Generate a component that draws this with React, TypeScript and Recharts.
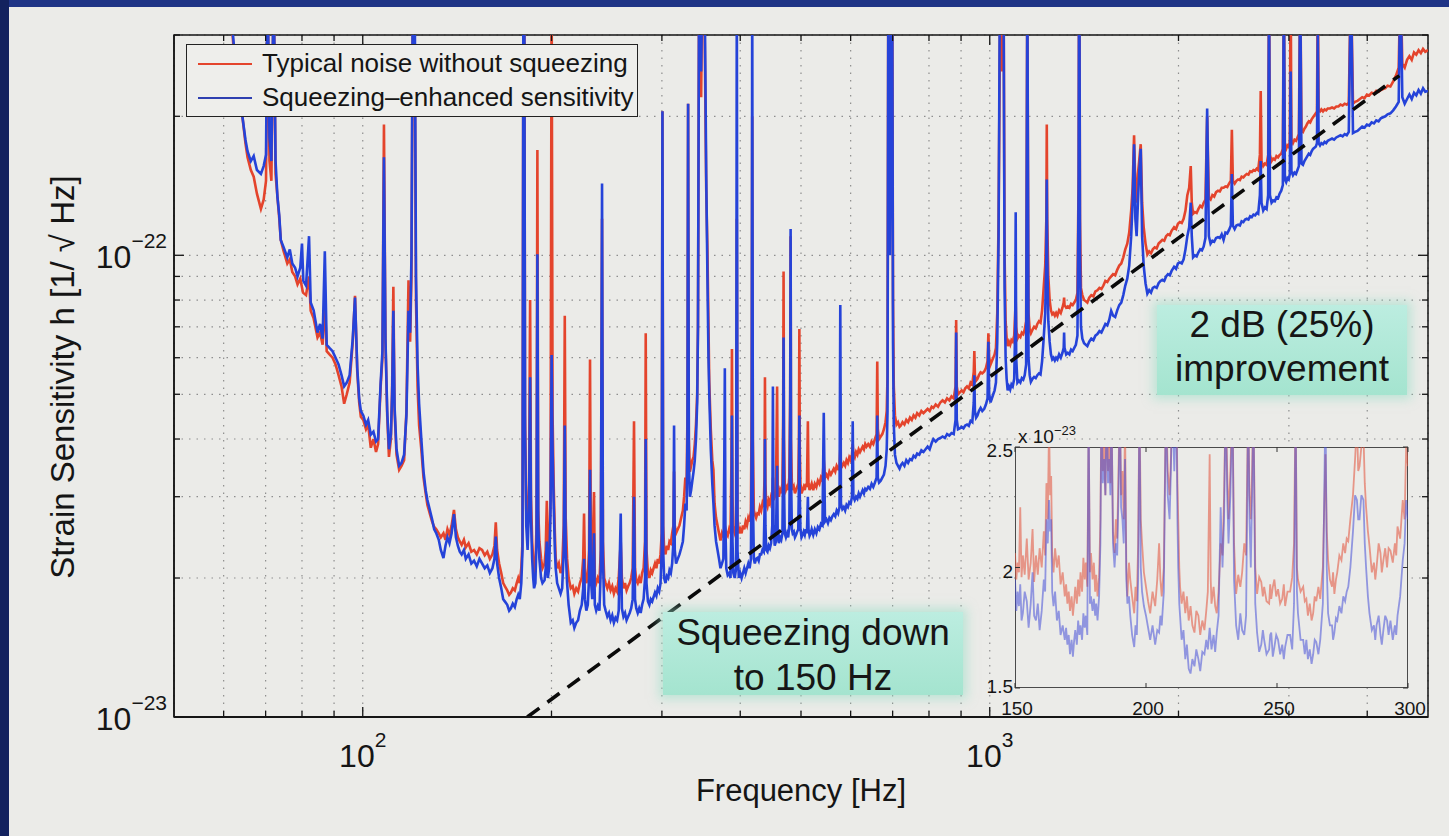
import React from 'react';
import { LineChart, Line, XAxis, YAxis, CartesianGrid, ReferenceArea } from 'recharts';

const BG = '#ebebe8';
const INK = '#151515';
const FONT = '"Liberation Sans", Arial, Helvetica, sans-serif';
const RED = '#e4442c';
const BLUE = '#2543d9';

// main plot box, page pixels
const PLOT = { left: 174, top: 35, right: 1428, bottom: 717 };
// inset plot box, chart-local pixels
const INSET = { left: 55, top: 27, right: 448, bottom: 268 };

// axes
const freqTicks = [60, 70, 80, 90, 100, 200, 300, 400, 500, 600, 700, 800, 900, 1000, 2000, 3000, 4000];
const freqLabels: Record<number, string> = { 100: '2', 1000: '3' };
const strainTicks = [1, 2, 3, 4, 5, 6, 7, 8, 9, 10, 20, 30];
const strainLabels: Record<number, string> = { 1: '\u221223', 10: '\u221222' };
const insetFreqTicks = [150, 200, 250, 300];
const insetStrainTicks = [1.5, 2, 2.5];

// strain in units of 1e-23 / sqrt(Hz), [frequency Hz, strain]
const typicalNoise = [
  [61, 40], [62.5, 26], [63.5, 21], [64.3, 19.9], [65, 17.5], [65.5, 16.3], [66.3, 15.3], [67, 14.8], [67.8, 13.6], [68.8, 12.6], [69.5, 13.2], [70.1, 14.5], [70.5, 40], [71, 16], [71.5, 14.5], [72.1, 40], [72.6, 15], [73.1, 13.4], [73.6, 12], [74, 10.8], [74.8, 10.2], [75.8, 9.6], [76.5, 9.8], [77.2, 9.2], [78, 9.0], [78.7, 8.65], [79.5, 8.9], [80.3, 8.3], [81.2, 8.2], [82.1, 9.0], [82.6, 7.58], [83.5, 7.3], [84.7, 6.64], [85.5, 6.8], [86.3, 6.4], [87, 8.0], [87.6, 6.2], [88.5, 6.1], [89.5, 6.0], [90.5, 5.8], [91.5, 5.5], [92.5, 5.2], [93.4, 4.77], [94.3, 5.0], [95.3, 5.3], [96.4, 6.5], [97.2, 8.17], [98, 5.6], [98.7, 4.8], [99.3, 4.47], [100.2, 4.4], [101.2, 4.2], [102, 4.3], [103, 3.83], [104, 4.0], [105, 3.75], [105.8, 3.9], [106.8, 5.2], [107.5, 6], [108.1, 19.2], [108.7, 6.5], [109.4, 4.5], [110.1, 3.66], [110.9, 4.0], [111.4, 5.2], [111.9, 8.55], [112.4, 4.6], [113.2, 3.7], [114.3, 3.43], [115.3, 3.5], [116.4, 3.6], [117.4, 4.6], [118.3, 8.83], [119, 6.5], [119.6, 9], [120.2, 40], [121, 30], [121.6, 8], [122.3, 5.2], [123, 4.28], [124, 3.8], [125, 3.3], [126, 3.05], [126.8, 2.88], [128, 2.75], [129, 2.65], [130, 2.58], [131, 2.55], [132.2, 2.5], [133.2, 2.45], [134.5, 2.5], [135.5, 2.42], [136.5, 2.55], [137.5, 2.48], [138.6, 2.6], [139.8, 2.81], [140.8, 2.55], [141.8, 2.45], [142.8, 2.4], [143.8, 2.36], [145, 2.42], [146, 2.33], [147.5, 2.38], [149, 2.28], [150.5, 2.3], [152, 2.25], [153.5, 2.32], [155, 2.3], [156.5, 2.24], [158, 2.28], [159.5, 2.2], [161, 2.25], [162.2, 2.35], [163, 2.64], [163.8, 2.3], [165, 2.15], [166.3, 2.05], [167.5, 1.95], [168.5, 1.92], [170, 1.88], [171.2, 1.84], [172.3, 1.86], [173.5, 1.9], [174.8, 1.88], [176, 1.95], [177, 2.0], [178, 1.95], [179, 2.1], [179.8, 2.4], [180.4, 40], [181, 40], [181.5, 4.5], [182.3, 2.8], [183.2, 2.5], [184.2, 3.2], [184.9, 8.0], [185.5, 3.0], [186.3, 2.4], [187, 2.2], [187.6, 2.0], [188.5, 2.1], [189.3, 2.6], [189.9, 16.9], [190.5, 2.8], [191.3, 2.4], [192.5, 2.2], [193.5, 2.1], [195, 2.15], [195.8, 2.3], [196.6, 2.94], [197.3, 2.2], [198.3, 2.3], [199.3, 3.0], [200.1, 40], [200.8, 4.5], [201.6, 3.2], [202.5, 2.5], [203.1, 2.21], [204.2, 2.1], [205.5, 2.15], [206.8, 2.05], [208, 2.1], [209.2, 2.6], [210, 7.4], [210.7, 2.7], [211.8, 2.2], [213, 2.0], [214.7, 1.9], [216.2, 1.92], [217.5, 1.85], [219, 1.9], [220.5, 1.87], [222, 1.95], [223.5, 2.0], [224.7, 2.2], [225.4, 2.76], [226.1, 2.1], [227.3, 1.95], [228.5, 2.0], [229.6, 2.3], [230.4, 5.95], [231.1, 2.4], [232.3, 2.1], [233.8, 3.07], [234.5, 2.0], [235.7, 1.95], [237, 2.0], [238.5, 1.95], [239.7, 2.3], [240.8, 12.0], [241.6, 2.4], [242.7, 2.0], [244, 1.95], [245.5, 1.9], [247, 1.95], [248.5, 1.88], [250, 1.92], [251.5, 1.85], [253, 1.9], [254.5, 1.87], [256, 2.0], [257.9, 2.4], [259, 2.0], [260.5, 1.9], [262, 1.95], [263.5, 1.88], [265, 1.92], [266.5, 1.95], [268, 2.0], [269.5, 2.1], [270.8, 4.37], [271.8, 2.1], [273, 1.98], [274.5, 1.95], [276, 2.0], [277.5, 1.95], [279, 2.05], [280.5, 2.1], [282, 2.4], [282.7, 6.78], [283.5, 2.3], [285, 2.05], [286.5, 2.0], [288, 2.08], [289.5, 2.05], [291, 2.1], [292.5, 2.15], [294, 2.1], [295.5, 2.2], [297, 2.15], [298.5, 2.25], [299.8, 2.5], [300.6, 20.5], [301.4, 2.6], [302.5, 2.3], [304, 2.25], [305.5, 2.35], [307, 2.3], [308.5, 2.4], [310, 2.38], [311.5, 2.5], [313, 2.6], [313.7, 3.4], [314.5, 2.6], [316, 2.5], [318, 2.55], [320, 2.6], [322, 2.7], [324, 2.8], [325.5, 3.0], [327, 3.3], [328.5, 3.2], [329.5, 4.5], [330.3, 21.3], [331.2, 4.0], [332.5, 3.4], [334, 3.5], [335.5, 3.6], [337, 3.66], [338.5, 3.9], [340, 4.3], [341.5, 5.0], [342.5, 7], [343.9, 40], [345, 25], [346.5, 22], [348, 40], [349.5, 40], [350.2, 40], [351.5, 25], [353, 14], [354.6, 10.3], [356, 7.0], [357, 5.3], [359, 4.2], [361, 3.6], [362.5, 3.43], [364, 2.9], [366, 2.7], [368, 2.6], [370, 2.5], [372, 2.41], [374, 2.5], [376, 2.45], [378, 2.6], [380, 2.5], [382, 2.47], [384, 2.55], [386, 2.5], [387.2, 3.5], [388, 6.27], [388.8, 3.0], [390, 2.55], [392, 2.5], [394, 2.6], [395, 12], [396, 2.7], [398, 2.5], [400, 2.55], [402, 2.5], [404, 2.6], [406, 2.55], [408, 2.65], [410, 2.6], [412, 2.7], [414, 2.65], [416, 2.8], [417.2, 5], [418, 20], [419, 4], [420.5, 2.8], [422, 2.75], [424, 2.7], [426, 2.76], [428, 2.75], [430, 2.85], [432, 2.8], [434, 2.9], [436, 2.85], [437.3, 3.3], [438, 5.44], [438.8, 3.2], [440, 2.9], [442, 2.85], [444, 2.95], [446, 2.9], [448, 3.0], [450, 2.95], [451, 3.3], [452, 2.95], [454, 3.0], [456, 3.05], [458, 5.2], [459, 3.1], [461, 3.0], [463, 3.1], [465, 3.05], [467, 3.2], [468.3, 4.5], [469, 9.22], [469.8, 4.0], [471, 3.2], [473, 3.1], [475, 3.15], [477, 3.1], [479, 3.3], [480.5, 5.0], [481.3, 11.0], [482, 4.0], [483.5, 3.2], [485, 3.1], [487, 3.15], [489, 3.05], [491, 3.1], [493, 3.15], [495, 3.2], [496.2, 4.0], [497, 6.92], [497.8, 3.8], [499, 3.2], [501, 3.05], [503, 3.1], [505, 3.15], [507, 3.1], [509, 3.2], [511, 3.15], [512.8, 4.37], [514, 3.2], [516, 3.1], [518, 3.15], [520, 3.2], [523, 3.1], [526, 3.2], [529, 3.15], [532, 3.25], [535, 3.2], [538, 3.3], [541, 3.25], [543.6, 3.6], [546, 3.3], [549, 3.35], [552, 3.3], [555, 3.4], [558, 3.35], [561, 3.4], [564, 3.45], [567, 3.4], [570, 3.5], [573, 3.45], [576, 3.5], [577.6, 3.8], [579, 3.55], [582, 3.5], [585, 3.55], [588, 3.5], [591, 3.6], [594, 3.55], [597, 3.65], [600, 3.6], [603, 3.7], [604.6, 3.9], [606, 3.7], [609, 3.65], [612, 3.75], [615, 3.7], [618, 3.8], [621, 3.75], [624, 3.8], [627, 3.85], [630, 3.8], [633, 3.9], [636, 3.85], [640, 3.9], [644, 3.85], [648, 3.95], [652, 3.9], [656, 4.0], [660, 4.1], [661.6, 5.89], [663, 4.2], [666, 4.0], [670, 4.05], [674, 4.1], [678, 4.2], [682, 4.35], [685, 4.6], [687, 5.5], [689, 40], [691, 15], [693, 12], [695, 20], [697, 40], [699, 40], [701, 8], [703, 5.2], [706, 4.5], [710, 4.3], [714, 4.35], [718, 4.25], [721.5, 4.28], [726, 4.35], [731, 4.3], [736, 4.4], [741, 4.35], [746, 4.45], [751, 4.4], [756, 4.5], [761, 4.45], [766, 4.55], [772, 4.5], [778, 4.6], [784, 4.55], [790, 4.6], [796, 4.65], [802, 4.6], [808, 4.7], [813, 4.67], [820, 4.75], [827, 4.7], [834, 4.8], [841, 4.85], [848, 4.8], [855, 4.9], [862, 4.85], [869, 4.95], [876, 4.9], [882, 5.2], [884, 7.24], [886, 5.2], [890, 5.0], [896, 5.05], [902, 5.1], [908, 5.05], [914, 5.15], [920, 5.2], [926, 5.15], [932, 5.3], [938, 5.25], [943, 5.6], [945, 6.2], [947, 5.5], [951, 5.35], [956, 5.4], [961, 5.5], [967, 5.58], [973, 5.55], [980, 5.6], [986, 5.7], [992, 5.9], [995, 6.78], [998, 6.0], [1003, 5.8], [1008, 5.9], [1013, 6.0], [1018, 6.1], [1023, 6.3], [1028, 7.5], [1033, 12], [1038, 30], [1041, 40], [1044, 25], [1048, 40], [1052, 40], [1056, 10], [1060, 7.2], [1064, 6.6], [1068, 6.36], [1073, 6.5], [1078, 6.4], [1083, 6.55], [1088, 6.5], [1094, 6.7], [1098, 7.5], [1100, 8.0], [1102, 7.0], [1107, 6.6], [1113, 6.7], [1119, 6.65], [1125, 6.8], [1131, 6.75], [1137, 6.9], [1143, 7.2], [1148, 40], [1153, 7.5], [1158, 6.9], [1163, 6.78], [1170, 6.9], [1177, 7.0], [1184, 6.95], [1191, 7.1], [1198, 7.2], [1205, 7.15], [1212, 7.6], [1219, 8.5], [1226, 9.5], [1231, 12], [1233, 19.2], [1235, 12], [1240, 9.0], [1246, 8.0], [1252, 7.6], [1258, 7.45], [1264, 7.5], [1270, 7.4], [1276, 7.5], [1282, 7.4], [1290, 7.6], [1298, 7.5], [1306, 7.7], [1312, 7.9], [1314, 8.1], [1316, 7.8], [1324, 7.7], [1332, 7.75], [1340, 7.7], [1348, 7.85], [1356, 7.8], [1364, 7.9], [1372, 8.0], [1380, 8.3], [1386, 15], [1388, 40], [1390, 40], [1393, 12], [1398, 8.5], [1405, 8.2], [1414, 8.0], [1423, 7.95], [1431, 7.9], [1441, 8.1], [1452, 8.2], [1463, 8.15], [1474, 8.35], [1485, 8.4], [1496, 8.5], [1507, 8.45], [1518, 8.6], [1529, 8.8], [1540, 8.75], [1551, 8.9], [1562, 9.0], [1573, 9.1], [1585, 9.05], [1597, 9.3], [1609, 9.5], [1621, 9.6], [1633, 9.9], [1645, 10.3], [1657, 10.6], [1669, 11.2], [1681, 12.5], [1690, 14], [1699, 18.2], [1707, 14], [1715, 13], [1723, 15], [1731, 16], [1741, 17.4], [1750, 13], [1760, 11.5], [1772, 10.6], [1784, 10.05], [1796, 10.2], [1808, 10.1], [1820, 10.3], [1833, 10.4], [1846, 10.35], [1859, 10.6], [1872, 10.7], [1885, 10.8], [1898, 10.75], [1911, 11.0], [1924, 11.1], [1937, 11.05], [1950, 11.3], [1968, 11.5], [1982, 11.4], [1996, 11.7], [2010, 11.8], [2024, 11.75], [2038, 12.0], [2052, 12.5], [2066, 13.5], [2080, 14], [2092, 15.6], [2100, 13], [2110, 12.3], [2124, 12.4], [2138, 12.35], [2152, 12.6], [2166, 12.8], [2180, 12.7], [2194, 13.0], [2208, 13.2], [2222, 20.0], [2236, 13.3], [2250, 13.2], [2265, 13.5], [2280, 13.4], [2296, 13.7], [2312, 13.8], [2328, 13.75], [2344, 14.0], [2360, 14.0], [2376, 14.1], [2392, 14.05], [2408, 14.3], [2424, 14.5], [2433, 18.7], [2442, 14.5], [2458, 14.3], [2474, 14.5], [2490, 14.6], [2506, 14.55], [2522, 14.8], [2538, 14.75], [2554, 14.9], [2570, 15.0], [2586, 14.95], [2602, 15.2], [2618, 15.15], [2634, 15.3], [2650, 15.25], [2666, 15.4], [2680, 15.3], [2697, 16.5], [2705, 22.7], [2713, 16], [2730, 15.6], [2747, 15.8], [2764, 15.7], [2780, 16.5], [2789, 40], [2798, 16.5], [2815, 16.0], [2832, 16.2], [2849, 16.1], [2866, 16.4], [2883, 16.3], [2900, 16.5], [2917, 16.6], [2934, 17.0], [2945, 40], [2956, 17.2], [2970, 17.0], [2984, 17.3], [2998, 17.2], [3010, 17.6], [3019, 40], [3028, 17.8], [3045, 17.5], [3062, 17.8], [3079, 17.7], [3096, 18.0], [3112, 18.3], [3127, 40], [3142, 18.6], [3159, 18.5], [3176, 18.8], [3193, 19.0], [3210, 19.3], [3227, 19.5], [3244, 19.4], [3261, 19.7], [3278, 19.9], [3295, 20.1], [3312, 20.3], [3326, 20.5], [3336, 40], [3346, 20.6], [3363, 20.5], [3380, 20.7], [3400, 20.5], [3420, 20.7], [3440, 20.6], [3460, 20.8], [3488, 20.8], [3515, 20.9], [3542, 20.8], [3570, 21.0], [3598, 21.0], [3626, 21.2], [3654, 21.1], [3682, 21.3], [3710, 21.2], [3738, 21.4], [3767, 40], [3796, 21.3], [3825, 21.5], [3859, 21.6], [3893, 21.8], [3927, 22.0], [3961, 21.9], [3995, 22.3], [4030, 22.2], [4065, 22.5], [4100, 22.4], [4135, 22.7], [4170, 22.6], [4205, 22.8], [4240, 22.9], [4275, 23.0], [4310, 23.3], [4355, 23.2], [4400, 23.8], [4445, 24.5], [4490, 25.5], [4519, 40], [4550, 26], [4590, 25.5], [4630, 26.5], [4670, 27], [4710, 26.5], [4750, 27.5], [4790, 27.2], [4830, 27.8], [4870, 27.4], [4910, 28], [4950, 27.6], [5000, 27.8],
];

const squeezedNoise = [
  [61, 40], [62.5, 27], [63.5, 22], [64.3, 19.9], [65, 17.8], [65.5, 16.8], [66.3, 16.0], [67, 16.4], [67.8, 15.3], [68.8, 15.0], [69.5, 15.6], [70.1, 16.5], [70.5, 40], [71, 18], [71.5, 16], [72.1, 40], [72.6, 16], [73.1, 13.4], [73.6, 12.2], [74, 10.8], [74.8, 10.4], [75.8, 9.9], [76.5, 10.3], [77.2, 9.6], [78, 9.4], [78.7, 9.0], [79.5, 9.4], [80, 10.6], [80.4, 8.8], [81.2, 8.6], [82.1, 11.0], [82.6, 7.9], [83.5, 7.6], [84.7, 6.8], [85.5, 7.1], [86.3, 6.6], [87, 10.2], [87.6, 6.4], [88.5, 6.3], [89.5, 6.2], [90.5, 6.0], [91.5, 5.8], [92.5, 5.5], [93.4, 5.2], [94.3, 5.3], [95.3, 5.5], [96.4, 6.6], [97.2, 8.1], [98, 5.7], [98.7, 4.9], [99.3, 4.6], [100.2, 4.5], [101.2, 4.3], [102, 4.4], [103, 4.09], [104, 4.15], [105, 3.95], [105.8, 4.0], [106.8, 5.3], [107.5, 6.2], [108.1, 16.3], [108.7, 6.6], [109.4, 4.6], [110.1, 3.8], [110.9, 4.1], [111.4, 5.0], [111.9, 7.58], [112.4, 4.7], [113.2, 3.8], [114.3, 3.5], [115.3, 3.55], [116.4, 3.7], [117.4, 4.5], [118.3, 7.58], [119, 6.8], [119.6, 10], [120.2, 40], [121, 40], [121.6, 9], [122.3, 5.8], [123, 4.77], [124, 4.0], [125, 3.4], [126, 3.1], [126.8, 2.95], [128, 2.8], [129, 2.68], [130, 2.55], [131, 2.5], [132.2, 2.42], [133.2, 2.3], [134.5, 2.21], [135.5, 2.35], [136.5, 2.45], [137.5, 2.38], [138.6, 2.5], [139.8, 2.75], [140.8, 2.45], [141.8, 2.35], [142.8, 2.28], [143.8, 2.25], [145, 2.3], [146, 2.2], [147.5, 2.25], [149, 2.15], [150.5, 2.18], [152, 2.12], [153.5, 2.2], [155, 2.15], [156.5, 2.1], [158, 2.13], [159.5, 2.05], [161, 2.1], [162.2, 2.2], [163, 2.46], [163.8, 2.15], [165, 2.0], [166.3, 1.9], [167.5, 1.8], [168.5, 1.78], [170, 1.75], [171.2, 1.7], [172.3, 1.72], [173.5, 1.76], [174.8, 1.73], [176, 1.8], [177, 1.84], [178, 1.8], [179, 1.95], [179.8, 2.3], [180.4, 40], [181, 40], [181.5, 4.2], [182.3, 2.6], [183.2, 2.3], [184.2, 2.9], [184.9, 5.44], [185.5, 2.7], [186.3, 2.2], [187, 2.0], [187.6, 1.9], [188.5, 1.95], [189.3, 2.4], [189.9, 10.05], [190.5, 2.6], [191.3, 2.2], [192.5, 2.0], [193.5, 1.95], [195, 1.98], [195.8, 2.1], [196.6, 2.4], [197.3, 2.0], [198.3, 2.1], [199.3, 2.8], [200.1, 6.08], [200.8, 3.8], [201.6, 2.9], [202.5, 2.3], [203.1, 2.1], [204.2, 1.95], [205.5, 1.9], [206.8, 1.85], [208, 1.9], [209.2, 2.3], [210, 4.28], [210.7, 2.3], [211.8, 1.95], [213, 1.75], [214.7, 1.6], [216.2, 1.62], [217.5, 1.56], [219, 1.6], [220.5, 1.62], [222, 1.7], [223.5, 1.75], [224.7, 1.9], [225.4, 2.2], [226.1, 1.8], [227.3, 1.7], [228.5, 1.75], [229.6, 2.0], [230.4, 3.43], [231.1, 2.0], [232.3, 1.8], [233.8, 2.5], [234.5, 1.75], [235.7, 1.7], [237, 1.74], [238.5, 1.7], [239.7, 2.1], [240.8, 14.3], [241.6, 2.2], [242.7, 1.75], [244, 1.7], [245.5, 1.65], [247, 1.68], [248.5, 1.62], [250, 1.66], [251.5, 1.6], [253, 1.64], [254.5, 1.62], [256, 1.7], [257.9, 2.76], [259, 1.72], [260.5, 1.65], [262, 1.68], [263.5, 1.62], [265, 1.65], [266.5, 1.68], [268, 1.72], [269.5, 1.8], [270.8, 3.0], [271.8, 1.8], [273, 1.72], [274.5, 1.68], [276, 1.72], [277.5, 1.68], [279, 1.75], [280.5, 1.8], [282, 2.0], [282.7, 4.0], [283.5, 1.95], [285, 1.78], [286.5, 1.75], [288, 1.8], [289.5, 1.78], [291, 1.82], [292.5, 1.86], [294, 1.83], [295.5, 1.9], [297, 1.87], [298.5, 1.95], [299.8, 2.3], [300.6, 20.5], [301.4, 2.3], [302.5, 2.0], [304, 1.95], [305.5, 2.02], [307, 2.0], [308.5, 2.08], [310, 2.05], [311.5, 2.15], [313, 2.4], [313.7, 4.28], [314.5, 2.3], [316, 2.15], [318, 2.2], [320, 2.25], [322, 2.32], [324, 2.4], [325.5, 2.6], [327, 2.9], [328.5, 2.8], [329.5, 4.0], [330.3, 21.3], [331.2, 3.6], [332.5, 3.0], [334, 3.1], [335.5, 3.25], [337, 3.4], [338.5, 3.6], [340, 4.0], [341.5, 4.8], [342.5, 7], [343.9, 40], [345, 30], [346.5, 25], [348, 40], [349.5, 40], [350.2, 40], [351.5, 30], [353, 15], [354.6, 9.0], [356, 6.0], [357, 5.0], [359, 3.8], [361, 3.2], [362.5, 2.9], [364, 2.6], [366, 2.4], [368, 2.3], [370, 2.2], [372, 2.1], [374, 2.15], [376, 2.2], [377.2, 3.5], [378, 5.69], [378.8, 2.6], [380, 2.1], [382, 2.03], [384, 2.05], [386, 2.0], [387.2, 2.6], [388, 4.5], [388.8, 2.4], [390, 2.05], [392, 2.0], [394, 2.1], [395, 40], [396, 2.3], [398, 2.0], [400, 2.05], [402, 2.0], [404, 2.05], [406, 2.1], [408, 2.05], [410, 2.1], [412, 2.15], [414, 2.1], [416, 2.2], [417.2, 4], [418, 40], [419, 3], [420.5, 2.2], [422, 2.15], [424, 2.2], [426, 2.21], [428, 2.18], [430, 2.25], [432, 2.25], [434, 2.3], [436, 2.28], [437.3, 2.8], [438, 4.0], [438.8, 2.6], [440, 2.3], [442, 2.28], [444, 2.35], [446, 2.32], [448, 2.38], [450, 2.6], [451, 5.2], [452, 2.6], [454, 2.35], [456, 2.4], [458, 3.5], [459, 2.5], [461, 2.38], [463, 2.45], [465, 2.42], [467, 2.5], [468.3, 3.6], [469, 6.64], [469.8, 3.2], [471, 2.5], [473, 2.45], [475, 2.5], [477, 2.45], [479, 2.6], [480.5, 4.5], [481.3, 11.4], [482, 3.4], [483.5, 2.55], [485, 2.5], [487, 2.52], [489, 2.45], [491, 2.48], [493, 2.52], [495, 2.55], [496.2, 3.2], [497, 4.5], [497.8, 3.0], [499, 2.55], [501, 2.45], [503, 2.48], [505, 2.52], [507, 2.48], [509, 2.55], [511, 2.5], [512.8, 3.0], [514, 2.55], [516, 2.47], [518, 2.5], [520, 2.55], [523, 2.48], [526, 2.55], [529, 2.5], [532, 2.58], [535, 2.55], [538, 2.62], [541, 2.6], [543.6, 4.56], [546, 2.65], [549, 2.68], [552, 2.63], [555, 2.7], [558, 2.67], [561, 2.72], [564, 2.75], [567, 2.72], [570, 2.8], [573, 2.76], [576, 2.85], [577.6, 7.8], [579, 2.9], [582, 2.82], [585, 2.85], [588, 2.8], [591, 2.88], [594, 2.85], [597, 2.92], [600, 2.9], [603, 3.0], [604.6, 4.37], [606, 3.0], [609, 2.95], [612, 3.0], [615, 2.97], [618, 3.05], [621, 3.0], [624, 3.05], [627, 3.1], [630, 3.05], [633, 3.12], [636, 3.1], [640, 3.15], [644, 3.12], [648, 3.2], [652, 3.15], [656, 3.22], [660, 3.3], [661.6, 4.5], [663, 3.3], [666, 3.22], [670, 3.25], [674, 3.3], [678, 3.35], [682, 3.5], [685, 3.8], [687, 4.6], [689, 40], [691, 12], [693, 10], [695, 18], [697, 40], [699, 40], [701, 6.5], [703, 4.3], [706, 3.7], [710, 3.55], [714, 3.5], [718, 3.45], [721.5, 3.51], [726, 3.55], [731, 3.5], [736, 3.6], [741, 3.55], [746, 3.62], [751, 3.6], [756, 3.68], [761, 3.65], [766, 3.72], [772, 3.7], [778, 3.78], [784, 3.75], [790, 3.8], [796, 3.85], [802, 3.8], [808, 3.92], [813, 4.0], [820, 3.95], [827, 4.0], [834, 4.02], [841, 4.05], [848, 4.02], [855, 4.1], [862, 4.07], [869, 4.12], [876, 4.1], [882, 4.4], [884, 6.8], [886, 4.4], [890, 4.2], [896, 4.22], [902, 4.25], [908, 4.22], [914, 4.28], [920, 4.3], [926, 4.27], [932, 4.38], [938, 4.35], [943, 4.8], [945, 5.5], [947, 4.6], [951, 4.45], [956, 4.5], [961, 4.6], [967, 4.67], [973, 4.6], [980, 4.65], [986, 4.75], [992, 4.9], [995, 6.5], [998, 5.0], [1003, 4.8], [1008, 4.9], [1013, 5.0], [1018, 5.1], [1023, 5.3], [1028, 6.5], [1033, 11], [1038, 40], [1041, 40], [1044, 30], [1048, 40], [1052, 40], [1056, 8.5], [1060, 6.0], [1064, 5.4], [1068, 5.1], [1073, 5.2], [1078, 5.12], [1083, 5.25], [1088, 5.2], [1094, 5.4], [1098, 7.0], [1100, 12.4], [1102, 6.0], [1107, 5.3], [1113, 5.35], [1119, 5.3], [1125, 5.42], [1131, 5.38], [1137, 5.5], [1143, 5.8], [1148, 40], [1153, 6.0], [1158, 5.5], [1163, 5.32], [1170, 5.4], [1177, 5.45], [1184, 5.42], [1191, 5.5], [1198, 5.55], [1205, 5.52], [1212, 5.9], [1219, 6.6], [1226, 7.5], [1231, 10], [1233, 14.6], [1235, 10], [1240, 7.2], [1246, 6.5], [1252, 6.1], [1258, 5.95], [1264, 6.0], [1270, 5.92], [1276, 6.0], [1282, 5.95], [1290, 6.1], [1298, 6.0], [1306, 6.15], [1312, 6.3], [1314, 6.8], [1316, 6.3], [1324, 6.1], [1332, 6.15], [1340, 6.1], [1348, 6.25], [1356, 6.2], [1364, 6.3], [1372, 6.4], [1380, 6.7], [1386, 14], [1388, 40], [1390, 40], [1393, 10], [1398, 7.0], [1405, 6.6], [1414, 6.45], [1423, 6.4], [1431, 6.36], [1441, 6.5], [1452, 6.6], [1463, 6.55], [1474, 6.7], [1485, 6.75], [1496, 6.85], [1507, 6.8], [1518, 6.95], [1529, 7.1], [1540, 7.05], [1551, 7.25], [1562, 7.58], [1573, 7.4], [1585, 7.35], [1597, 7.6], [1609, 7.8], [1621, 7.9], [1633, 8.2], [1645, 8.6], [1657, 8.9], [1669, 9.5], [1681, 11], [1690, 13], [1699, 17.4], [1707, 12], [1715, 11], [1723, 13], [1731, 15], [1741, 17.0], [1750, 11], [1760, 9.5], [1772, 8.7], [1784, 8.26], [1796, 8.4], [1808, 8.3], [1820, 8.5], [1833, 8.55], [1846, 8.5], [1859, 8.7], [1872, 8.8], [1885, 8.85], [1898, 8.8], [1911, 9.0], [1924, 9.1], [1937, 9.05], [1950, 9.25], [1968, 9.44], [1982, 9.35], [1996, 9.6], [2010, 9.65], [2024, 9.6], [2038, 9.8], [2052, 10.3], [2066, 11], [2080, 11.5], [2092, 13.0], [2100, 11], [2110, 9.9], [2124, 10.0], [2138, 9.95], [2152, 10.15], [2166, 10.3], [2180, 10.25], [2194, 10.45], [2208, 10.9], [2222, 20.8], [2236, 11.0], [2250, 10.6], [2265, 10.75], [2280, 10.7], [2296, 10.9], [2312, 10.95], [2328, 10.9], [2344, 11.1], [2360, 10.8], [2376, 11.2], [2392, 11.15], [2408, 11.35], [2424, 11.6], [2433, 15], [2442, 11.6], [2458, 11.4], [2474, 11.6], [2490, 11.65], [2506, 11.6], [2522, 11.85], [2538, 11.8], [2554, 11.95], [2570, 12.0], [2586, 11.95], [2602, 12.15], [2618, 12.1], [2634, 12.25], [2650, 12.2], [2666, 12.35], [2680, 12.3], [2697, 13.5], [2705, 16], [2713, 13], [2730, 12.5], [2747, 12.7], [2764, 12.6], [2780, 13.5], [2789, 40], [2798, 13.5], [2815, 13.0], [2832, 13.15], [2849, 13.1], [2866, 13.35], [2883, 13.3], [2900, 13.6], [2917, 13.8], [2934, 14.2], [2945, 40], [2956, 14.6], [2970, 14.4], [2984, 14.7], [2998, 14.6], [3010, 15.0], [3019, 25], [3028, 15.2], [3045, 14.9], [3062, 15.1], [3079, 15.0], [3096, 15.3], [3112, 15.6], [3127, 40], [3142, 15.8], [3159, 15.7], [3176, 16.0], [3193, 16.2], [3210, 16.4], [3227, 16.6], [3244, 16.5], [3261, 16.8], [3278, 17.0], [3295, 17.1], [3312, 17.2], [3326, 17.5], [3336, 30], [3346, 17.5], [3363, 17.3], [3380, 17.5], [3400, 17.4], [3420, 17.6], [3440, 17.5], [3460, 17.7], [3488, 17.8], [3515, 17.9], [3542, 17.8], [3570, 18.0], [3598, 18.1], [3626, 18.2], [3654, 18.1], [3682, 18.3], [3710, 18.2], [3738, 18.5], [3767, 40], [3796, 18.4], [3825, 18.5], [3859, 18.6], [3893, 18.8], [3927, 19.0], [3961, 18.9], [3995, 19.2], [4030, 19.1], [4065, 19.4], [4100, 19.3], [4135, 19.6], [4170, 19.5], [4205, 19.8], [4240, 19.9], [4275, 20.0], [4310, 20.2], [4355, 20.3], [4400, 20.6], [4445, 21.0], [4490, 21.5], [4519, 40], [4550, 22], [4590, 21.3], [4630, 21.8], [4670, 22.3], [4710, 21.8], [4750, 22.5], [4790, 22.2], [4830, 22.8], [4870, 22.4], [4910, 23.0], [4950, 22.6], [5000, 22.7],
];

// the dashed guide line
const guideLine = [[183, 1], [4500, 24.5]];

// inset, 150-300 Hz, linear axes
const insetTypical = [
  [150, 2.06], [150.5, 1.95], [151, 2.02], [151.5, 1.98], [152, 2.25], [152.5, 1.96], [153, 2.05], [153.7, 1.97], [154.5, 2.12], [155.2, 1.95], [156, 2.02], [156.7, 2.16], [157.3, 1.94], [158, 2.05], [158.7, 1.97], [159.4, 2.08], [160.2, 2.0], [161, 2.15], [161.5, 2.05], [162, 2.35], [162.5, 2.2], [163, 2.6], [163.4, 2.3], [163.8, 2.38], [164.2, 2.05], [164.7, 1.98], [165.3, 2.08], [166, 2.0], [166.7, 2.05], [167.4, 1.93], [168.2, 1.98], [169, 1.88], [169.5, 1.93], [170, 1.85], [170.5, 1.9], [171, 1.82], [171.6, 1.88], [172.1, 1.8], [172.6, 1.86], [173, 1.92], [173.6, 1.85], [174.1, 1.95], [174.6, 1.88], [175, 1.98], [175.6, 1.9], [176.1, 2.04], [176.6, 1.95], [177, 2.02], [177.6, 1.92], [178.1, 2.6], [178.6, 1.98], [179, 2.06], [179.6, 1.95], [180.1, 2.02], [180.6, 1.9], [181, 1.97], [181.5, 1.88], [182.1, 1.96], [182.6, 2.2], [183, 2.7], [183.5, 2.4], [184, 2.5], [184.5, 2.3], [185, 2.7], [185.5, 2.4], [186, 2.55], [186.4, 2.35], [186.8, 2.7], [187.4, 2.15], [188, 2.06], [188.5, 2.2], [189, 2.12], [189.5, 2.4], [190, 2.7], [190.5, 2.3], [191, 2.4], [191.5, 2.2], [192, 2.6], [192.5, 2.0], [192.9, 1.88], [193.5, 2.02], [194, 1.95], [194.7, 1.88], [195.5, 1.81], [196, 1.92], [196.5, 1.86], [197, 2.1], [197.5, 2.7], [198, 2.2], [198.5, 2.1], [199.2, 1.98], [200, 1.92], [200.8, 1.86], [201.6, 1.81], [202.5, 1.9], [203.5, 1.84], [204.3, 1.95], [205, 2.1], [205.5, 1.95], [206, 1.88], [206.8, 2.0], [207.6, 2.7], [208.3, 2.4], [209, 2.3], [209.5, 2.45], [210, 2.7], [210.8, 2.5], [211.6, 2.7], [212, 2.35], [212.3, 2.2], [212.7, 2.0], [213, 1.92], [213.6, 1.85], [214.3, 1.9], [215, 1.81], [215.6, 1.88], [216.3, 1.78], [217, 1.84], [217.7, 1.76], [218.5, 1.73], [219.2, 1.82], [220, 1.8], [220.7, 1.72], [221.5, 1.78], [222.3, 1.74], [223, 1.82], [223.6, 1.9], [224.3, 2.47], [224.7, 1.95], [225, 1.85], [225.8, 1.92], [226.4, 1.84], [227, 1.81], [227.7, 1.9], [228.5, 2.1], [229.2, 2.05], [229.8, 2.3], [230.4, 2.7], [231, 2.4], [231.5, 2.2], [232.2, 2.4], [233, 2.7], [233.6, 2.1], [234.4, 1.89], [235.2, 1.97], [236, 1.92], [236.7, 1.98], [237.5, 2.1], [238.2, 2.05], [239, 2.7], [239.5, 2.3], [240, 2.2], [240.5, 2.4], [241, 2.7], [241.7, 2.0], [242.4, 1.89], [243.2, 1.96], [244, 1.94], [244.6, 1.88], [245.1, 1.92], [246, 1.86], [247, 1.85], [247.4, 1.93], [247.8, 1.87], [248.4, 1.92], [249, 1.95], [249.7, 1.88], [250.4, 1.91], [251.2, 1.85], [252, 1.87], [252.6, 1.93], [253.1, 1.84], [254, 1.9], [255, 1.9], [255.8, 1.96], [256.5, 2.1], [257.1, 2.7], [257.6, 2.0], [258, 1.95], [259, 1.9], [260, 1.92], [260.6, 1.86], [261.2, 1.87], [261.8, 1.8], [262.5, 1.85], [263.2, 1.78], [263.8, 1.81], [264.4, 1.88], [265, 1.86], [265.8, 1.92], [266.5, 1.87], [267.5, 2.0], [268.5, 2.47], [269, 2.15], [269.5, 2.03], [270.2, 1.95], [271, 1.92], [271.4, 1.98], [271.9, 1.89], [272.5, 1.95], [273, 1.98], [273.8, 2.05], [274.6, 2.03], [275.3, 2.1], [276, 2.06], [276.6, 2.12], [277.2, 2.11], [278, 2.2], [279, 2.3], [279.8, 2.45], [280.5, 2.6], [281, 2.4], [281.5, 2.42], [282.2, 2.5], [283, 2.55], [283.5, 2.35], [284, 2.25], [284.7, 2.15], [285.3, 2.09], [286.2, 1.98], [287, 2.02], [287.5, 1.95], [288, 2.0], [288.8, 2.1], [289.5, 2.06], [290, 1.98], [290.6, 2.03], [291.3, 2.08], [292, 2.0], [292.6, 2.08], [293.3, 2.07], [294.2, 2.02], [295, 2.1], [295.5, 2.05], [296, 2.17], [297, 2.12], [298, 2.28], [298.7, 2.2], [299.3, 2.5], [300, 2.42],
];

const insetSqueezed = [
  [150, 1.95], [150.5, 1.82], [151, 1.9], [151.5, 1.84], [152, 1.93], [152.5, 1.78], [153, 1.81], [153.7, 1.9], [154.5, 1.86], [155.2, 1.75], [156, 1.85], [156.7, 1.98], [157.3, 1.8], [158, 1.78], [158.7, 1.85], [159.4, 1.74], [160.2, 1.82], [161, 1.95], [161.5, 1.9], [162, 2.2], [162.5, 2.1], [163, 2.28], [163.4, 2.15], [163.8, 2.2], [164.2, 1.9], [164.7, 1.84], [165.3, 1.9], [166, 1.78], [166.7, 1.82], [167.4, 1.72], [168.2, 1.76], [169, 1.7], [169.5, 1.75], [170, 1.68], [170.5, 1.72], [171, 1.64], [171.6, 1.7], [172.1, 1.63], [172.6, 1.7], [173, 1.74], [173.6, 1.68], [174.1, 1.78], [174.6, 1.72], [175, 1.76], [175.6, 1.7], [176.1, 1.81], [176.6, 1.75], [177, 1.8], [177.6, 1.72], [178.1, 2.7], [178.6, 1.85], [179, 1.88], [179.6, 1.82], [180.1, 1.87], [180.6, 1.8], [181, 1.85], [181.5, 1.78], [182.1, 1.88], [182.6, 2.1], [183, 2.7], [183.5, 2.35], [184, 2.45], [184.5, 2.3], [185, 2.7], [185.5, 2.35], [186, 2.45], [186.4, 2.3], [186.8, 2.7], [187.4, 2.1], [188, 2.0], [188.5, 2.1], [189, 2.05], [189.5, 2.3], [190, 2.7], [190.5, 2.25], [191, 2.2], [191.5, 2.1], [192, 2.45], [192.5, 1.95], [192.9, 1.85], [193.5, 1.88], [194, 1.8], [194.7, 1.72], [195.5, 1.67], [196, 1.76], [196.5, 1.72], [197, 1.95], [197.5, 2.7], [198, 2.0], [198.5, 1.9], [199.2, 1.84], [200, 1.8], [200.8, 1.75], [201.6, 1.7], [202.5, 1.76], [203.5, 1.68], [204.3, 1.74], [205, 1.73], [205.5, 1.8], [206, 1.76], [206.8, 1.9], [207.6, 2.7], [208.3, 2.3], [209, 2.2], [209.5, 2.4], [210, 2.7], [210.8, 2.4], [211.6, 2.7], [212, 2.2], [212.3, 2.0], [212.7, 1.85], [213, 1.8], [213.6, 1.7], [214.3, 1.74], [215, 1.62], [215.6, 1.68], [216.3, 1.58], [217, 1.56], [217.7, 1.62], [218.5, 1.59], [219.2, 1.66], [220, 1.62], [220.7, 1.57], [221.5, 1.65], [222.3, 1.64], [223, 1.7], [223.6, 1.66], [224.3, 1.75], [224.7, 1.7], [225, 1.66], [225.8, 1.72], [226.4, 1.65], [227, 1.73], [227.7, 1.8], [228.5, 2.25], [229.2, 2.0], [229.8, 2.2], [230.4, 2.7], [231, 2.3], [231.5, 2.1], [232.2, 2.3], [233, 2.7], [233.6, 1.95], [234.4, 1.76], [235.2, 1.7], [236, 1.81], [236.7, 1.74], [237.5, 1.72], [238.2, 1.8], [239, 2.7], [239.5, 2.2], [240, 2.0], [240.5, 2.3], [241, 2.7], [241.7, 1.85], [242.4, 1.73], [243.2, 1.65], [244, 1.68], [244.6, 1.74], [245.1, 1.7], [246, 1.64], [247, 1.66], [247.4, 1.72], [247.8, 1.73], [248.4, 1.63], [249, 1.67], [249.7, 1.72], [250.4, 1.7], [251.2, 1.64], [252, 1.68], [252.6, 1.62], [253.1, 1.67], [254, 1.72], [255, 1.72], [255.8, 1.66], [256.5, 1.85], [257.1, 2.7], [257.6, 1.9], [258, 1.81], [259, 1.7], [260, 1.7], [260.6, 1.64], [261.2, 1.7], [261.8, 1.62], [262.5, 1.66], [263.2, 1.6], [263.8, 1.64], [264.4, 1.7], [265, 1.69], [265.8, 1.64], [266.5, 1.7], [267.5, 1.85], [268.5, 2.7], [269, 2.0], [269.5, 1.81], [270.2, 1.76], [271, 1.76], [271.4, 1.7], [271.9, 1.73], [272.5, 1.79], [273, 1.78], [273.8, 1.84], [274.6, 1.81], [275.3, 1.88], [276, 1.86], [276.6, 1.9], [277.2, 1.92], [278, 2.0], [279, 2.15], [279.8, 2.3], [280.5, 2.28], [281, 2.2], [281.5, 2.2], [282.2, 2.3], [283, 2.28], [283.5, 2.1], [284, 2.0], [284.7, 1.88], [285.3, 1.81], [286.2, 1.74], [287, 1.76], [287.5, 1.7], [288, 1.76], [288.8, 1.8], [289.5, 1.72], [290, 1.68], [290.6, 1.74], [291.3, 1.8], [292, 1.78], [292.6, 1.72], [293.3, 1.78], [294.2, 1.7], [295, 1.76], [295.5, 1.72], [296, 1.8], [297, 1.88], [298, 2.03], [298.7, 2.1], [299.3, 2.28], [300, 2.2],
];

const toPoints = (pairs: number[][]) => pairs.map(([f, v]) => ({ f, v }));

const FreqTick = ({ x, payload }: any) => {
  const label = freqLabels[payload.value];
  const len = label ? 10 : 6;
  return (
    <g>
      <line x1={x} x2={x} y1={PLOT.bottom} y2={PLOT.bottom - len} stroke={INK} strokeWidth={1.3} />
      <line x1={x} x2={x} y1={PLOT.top} y2={PLOT.top + len} stroke={INK} strokeWidth={1.3} />
      {label && (
        <text x={x} y={PLOT.bottom + 50} textAnchor="middle" fontFamily={FONT} fontSize={32} fill={INK}>
          10<tspan dy={-20} fontSize={21}>{label}</tspan>
        </text>
      )}
    </g>
  );
};

const StrainTick = ({ y, payload }: any) => {
  const label = strainLabels[payload.value];
  const len = label ? 10 : 6;
  return (
    <g>
      <line x1={PLOT.left} x2={PLOT.left + len} y1={y} y2={y} stroke={INK} strokeWidth={1.3} />
      <line x1={PLOT.right} x2={PLOT.right - len} y1={y} y2={y} stroke={INK} strokeWidth={1.3} />
      {label && (
        <text x={167} y={y + 13} textAnchor="end" fontFamily={FONT} fontSize={32} fill={INK}>
          10<tspan dy={-20} fontSize={21}>{label}</tspan>
        </text>
      )}
    </g>
  );
};

const InsetFreqTick = ({ x, payload }: any) => (
  <g>
    <line x1={x} x2={x} y1={INSET.bottom} y2={INSET.bottom - 5} stroke="#333" />
    <line x1={x} x2={x} y1={INSET.top} y2={INSET.top + 5} stroke="#333" />
    <text x={x + 2} y={INSET.bottom + 27} textAnchor="middle" fontFamily={FONT} fontSize={19} fill={INK}>{payload.value}</text>
  </g>
);

const InsetStrainTick = ({ y, payload }: any) => (
  <g>
    <line x1={INSET.left} x2={INSET.left + 5} y1={y} y2={y} stroke="#333" />
    <line x1={INSET.right} x2={INSET.right - 5} y1={y} y2={y} stroke="#333" />
    <text x={INSET.left - 2} y={payload.value === 1.5 ? y + 5 : y + 10} textAnchor="end" fontFamily={FONT} fontSize={19} fill={INK}>{payload.value}</text>
  </g>
);

const noteBox: React.CSSProperties = {
  position: 'absolute',
  background: 'linear-gradient(180deg, #bcede0 0%, #a4e4cf 100%)',
  boxShadow: '0 0 10px 4px rgba(150, 222, 198, 0.55)',
  fontFamily: FONT,
  fontSize: 37,
  color: '#161616',
  textAlign: 'center',
};

export default function App() {
  return (
    <div style={{ position: 'fixed', left: 0, top: 0, width: 1449, height: 836, background: BG, overflow: 'hidden', fontFamily: FONT }}>
      <style>{`html, body { margin: 0; overflow: hidden; background: ${BG}; }`}</style>
      <div style={{ position: 'absolute', left: 0, top: 0, width: 1449, height: 7, background: '#1f3486' }} />
      <div style={{ position: 'absolute', left: 0, top: 0, width: 9, height: 836, background: '#13225e' }} />

      <div style={{ position: 'absolute', left: 0, top: 0 }}>
        <LineChart width={1449} height={836} margin={{ top: 35, right: 21, bottom: 89, left: 114 }}>
          <CartesianGrid stroke="#8e8e8e" strokeDasharray="1.5 6" strokeWidth={1.2} />
          <XAxis
            dataKey="f" type="number" scale="log" domain={[50, 5000]} allowDataOverflow
            ticks={freqTicks} interval={0} tick={FreqTick} tickLine={false} tickSize={0} tickMargin={0}
            axisLine={{ stroke: INK, strokeWidth: 2.2 }} height={30}
          />
          <YAxis
            type="number" scale="log" domain={[1, 30]} allowDataOverflow
            ticks={strainTicks} interval={0} tick={StrainTick} tickLine={false} tickSize={0} tickMargin={0}
            axisLine={{ stroke: INK, strokeWidth: 1.5 }} width={60}
          />
          <ReferenceArea x1={50} x2={5000} y1={1} y2={30} fill="none" stroke={INK} strokeWidth={1.5} fillOpacity={0} />
          <Line data={toPoints(typicalNoise)} dataKey="v" stroke={RED} strokeWidth={2.6} dot={false} isAnimationActive={false} />
          <Line data={toPoints(squeezedNoise)} dataKey="v" stroke={BLUE} strokeWidth={2.6} dot={false} isAnimationActive={false} />
          <Line data={toPoints(guideLine)} dataKey="v" stroke="#0a0a0a" strokeWidth={3.6} strokeDasharray="15 10" dot={false} isAnimationActive={false} />
        </LineChart>
      </div>

      <svg width={1449} height={836} style={{ position: 'absolute', left: 0, top: 0, pointerEvents: 'none' }}>
        <text x={801} y={801} textAnchor="middle" fontFamily={FONT} fontSize={31} fill={INK}>Frequency [Hz]</text>
        <text x={74} y={377} textAnchor="middle" fontFamily={FONT} fontSize={33} fill={INK} transform="rotate(-90 74 377)">
          Strain Sensitivity h [1/ {'\u221A'} Hz]
        </text>
      </svg>

      <div style={{ position: 'absolute', left: 186, top: 44, width: 452, height: 73, border: '1.5px solid #222', background: '#eeeeeb', boxSizing: 'border-box', fontSize: 26, color: INK }}>
        <div style={{ position: 'absolute', left: 11, top: 18, width: 54, height: 1.5, background: RED }} />
        <div style={{ position: 'absolute', left: 75, top: 3, lineHeight: '30px', whiteSpace: 'nowrap' }}>Typical noise without squeezing</div>
        <div style={{ position: 'absolute', left: 11, top: 52, width: 54, height: 1.5, background: '#2e3fb0' }} />
        <div style={{ position: 'absolute', left: 75, top: 37, lineHeight: '30px', whiteSpace: 'nowrap' }}>Squeezing{'\u2013'}enhanced sensitivity</div>
      </div>

      <div style={{ ...noteBox, left: 1157, top: 305, width: 250, height: 90 }}>
        <div style={{ position: 'absolute', left: 0, top: -2, width: '100%', lineHeight: '44px' }}>2 dB (25%)<br />improvement</div>
      </div>
      <div style={{ ...noteBox, left: 663, top: 612, width: 300, height: 83 }}>
        <div style={{ position: 'absolute', left: 0, top: -2, width: '100%', lineHeight: '45px' }}>Squeezing down<br />to 150 Hz</div>
      </div>

      <div style={{ position: 'absolute', left: 1015, top: 447, width: 393, height: 241, background: BG, border: '1px solid #4a4a4a', boxSizing: 'border-box' }} />
      <div style={{ position: 'absolute', left: 960, top: 420 }}>
        <LineChart width={470} height={310} margin={{ top: 27, right: 22, bottom: 22, left: 15 }}>
          <XAxis
            dataKey="f" type="number" domain={[150, 300]} allowDataOverflow ticks={insetFreqTicks} interval={0}
            tick={InsetFreqTick} tickLine={false} tickSize={0} tickMargin={0} axisLine={false} height={20}
          />
          <YAxis
            type="number" domain={[1.5, 2.5]} allowDataOverflow ticks={insetStrainTicks} interval={0}
            tick={InsetStrainTick} tickLine={false} tickSize={0} tickMargin={0} axisLine={false} width={40}
          />
          <Line data={toPoints(insetTypical)} dataKey="v" stroke="rgba(226, 92, 70, 0.6)" strokeWidth={1.8} dot={false} isAnimationActive={false} />
          <Line data={toPoints(insetSqueezed)} dataKey="v" stroke="rgba(70, 78, 215, 0.55)" strokeWidth={1.8} dot={false} isAnimationActive={false} />
        </LineChart>
      </div>
      <div style={{ position: 'absolute', left: 1018, top: 427, fontSize: 19, lineHeight: '20px', color: INK, whiteSpace: 'nowrap' }}>
        x 10<span style={{ position: 'relative', top: -8, fontSize: 13 }}>{'\u2212'}23</span>
      </div>
    </div>
  );
}
